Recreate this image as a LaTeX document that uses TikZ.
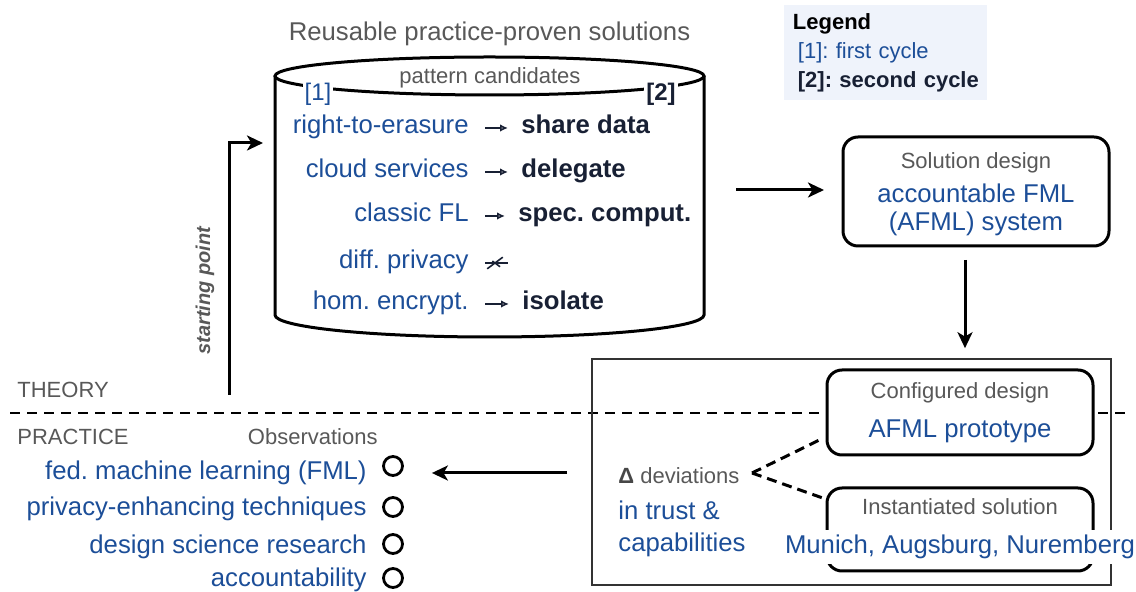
\documentclass[tikz,border=0pt]{standalone}
\usepackage{fontspec}
\setmainfont{Liberation Sans}
\usetikzlibrary{arrows.meta, shapes.misc}

\definecolor{kbblue}{RGB}{28,78,152}
\definecolor{kbnavy}{RGB}{24,32,52}
\definecolor{kbgray}{RGB}{88,88,88}
\definecolor{kbpanel}{RGB}{239,243,251}

\newcommand{\bigtext}{\fontsize{12.85}{14}\selectfont}
\newcommand{\smalltext}{\fontsize{11}{14.5}\selectfont}

\begin{document}
\frenchspacing
\begin{tikzpicture}[x=0.5pt, y=-0.5pt, font=\bigtext,
		every node/.style={inner sep=0pt},
		hint/.style={text=kbgray, font=\smalltext, yshift=-0.75pt},
		topic/.style={text=kbblue, yshift=-1.5pt},
		pick/.style={text=kbnavy, font=\bigtext\bfseries, yshift=-1.5pt},
		block/.style={draw, line width=1.5pt, rounded corners=7.5pt, fill=white, minimum width=133pt, align=center},
		flow/.style={-{Stealth[length=8pt, width=7.5pt, inset=2.2pt]}, line width=1.5pt},
		link/.style={-{Latex[open, length=4pt, width=3.8pt]}, draw=kbnavy, line width=0.9pt, shorten <=8pt, shorten >=6.5pt},
		devlink/.style={line width=1.5pt, dash pattern=on 5pt off 3pt, shorten >=2pt},
		obs/.style={circle, draw, line width=1.4pt, minimum size=9.5pt}]
	\useasboundingbox (0,0) rectangle (1136,592);

	% store of pattern candidates
	\node[hint, font=\bigtext] (title) at (489.5,32.5) {Reusable practice-proven solutions};
	\draw[line width=1.5pt] (489.5,76) ellipse [x radius=214.5, y radius=19];
	\draw[line width=1.5pt] (275,76) -- (275,315) arc [start angle=180, end angle=0, x radius=214.5, y radius=22] -- (704,76);
	\node[hint, anchor=mid] (cands) at (490,77) {pattern candidates};
	\node[topic, fill=white, inner sep=1pt, font=\fontsize{12}{14}\selectfont] (cyc1) at (318,91) {[1]};
	\node[pick, fill=white, inner sep=1pt, font=\fontsize{12}{14}\selectfont\bfseries] (cyc2) at (661,91) {[2]};

	\node[topic, anchor=mid east] (pa1) at (469,125) {right-to-erasure};
	\node[pick, anchor=mid west] (pb1) at (521,125) {share data};
	\draw[link] (pa1.mid east) -- (pb1.mid west);

	\node[topic, anchor=mid east] (pa2) at (469,169) {cloud services};
	\node[pick, anchor=mid west] (pb2) at (521,169) {delegate};
	\draw[link] (pa2.mid east) -- (pb2.mid west);

	\node[topic, anchor=mid east] (pa3) at (469,213) {classic FL};
	\node[pick, anchor=mid west] (pb3) at (518,213) {spec. comput.};
	\draw[link] (pa3.mid east) -- (pb3.mid west);

	\node[topic, anchor=mid east] (pa4) at (469,260) {diff. privacy};
	\coordinate (pb4) at (521,263);
	\draw[link, -] (pa4.mid east) -- node[cross out, draw=kbnavy, line width=0.8pt, minimum width=7pt, minimum height=5pt] (nox) {} (pb4);

	\node[topic, anchor=mid east] (pa5) at (469,301) {hom. encrypt.};
	\node[pick, anchor=mid west] (pb5) at (522,301) {isolate};
	\draw[link] (pa5.mid east) -- (pb5.mid west);

	% legend
	\node[fill=kbpanel, anchor=north west, text width=93pt, inner xsep=4.25pt, inner ysep=4pt, align=left, font=\smalltext] (legend) at (784,5)
		{\textbf{Legend}\\ \mbox{\hspace*{2.5pt}\color{kbblue}[1]: first cycle}\\ \mbox{\hspace*{2.5pt}\color{kbnavy}\bfseries [2]: second cycle}};

	% theory / practice split
	\draw[line width=1pt, dash pattern=on 5pt off 3.5pt] (10,413) -- (1130,413);
	\node[hint, anchor=mid west] (theory) at (17,391) {THEORY};
	\node[hint, anchor=mid west] (practice) at (17,438) {PRACTICE};

	\node[draw=black!80, line width=0.8pt, minimum width=259.5pt, minimum height=113pt] (field) at (851.5,472) {};

	\node[block, minimum height=54.5pt] (design) at (976,191.5)
		{{\smalltext\color{kbgray}\rule{0pt}{10.5pt}Solution design}\\[3pt]{\color{kbblue}accountable FML}\\{\color{kbblue}(AFML) system}};
	\node[block, minimum height=42.5pt] (conf) at (960,412.5)
		{{\smalltext\color{kbgray}Configured design}\\[5.5pt]{\color{kbblue}AFML prototype}};
	\node[block, minimum height=41.5pt] (inst) at (960,529.5) {};
	\node[hint, anchor=mid] (instlbl) at (960,508) {Instantiated solution};
	\node[topic, fill=white, inner sep=2.5pt, anchor=mid] (cities) at (960,545) {Munich, Augsburg, Nuremberg};

	\node[anchor=north west, align=left] (dev) at (618,467)
		{{\smalltext\textcolor{black!72}{\textbf{Δ}} \color{kbgray}deviations}\\[4.2pt]{\color{kbblue}in trust \&}\\[2pt]{\color{kbblue}capabilities}};
	\coordinate (devtip) at (752,473);
	\draw[devlink] (devtip) -- ([yshift=-12.25pt]conf.west);
	\draw[devlink] (devtip) -- ([yshift=15.25pt]inst.west);

	% observations
	\node[hint, anchor=mid east] (obshead) at (378,438) {Observations};
	\node[topic, anchor=mid east] (fml) at (367,471) {fed. machine learning (FML)};
	\node[topic, anchor=mid east] (pet) at (367,507) {privacy-enhancing techniques};
	\node[topic, anchor=mid east] (dsr) at (367,545) {design science research};
	\node[topic, anchor=mid east] (acc) at (367,578) {accountability};
	\node[obs] (o1) at (393,466) {};
	\node[obs] (o2) at (393,507) {};
	\node[obs] (o3) at (393,544) {};
	\node[obs] (o4) at (393,578) {};

	% cycle arrows
	\coordinate (start) at (229,395);
	\coordinate (storein) at (263,143);
	\draw[flow] (start) |- (storein);
	\node[hint, font=\fontsize{10}{12}\selectfont\bfseries\itshape, rotate=90] (startlbl) at (205,289) {starting point};

	\coordinate (storeout) at (736,190);
	\draw[flow, shorten >=8.75pt] (storeout) -- (storeout -| design.west);
	\draw[flow, shorten <=6.25pt, shorten >=5pt] ([xshift=-5.5pt]design.south) -- ([xshift=-5.5pt]design.south |- field.north);

	\coordinate (fieldout) at (567,473);
	\draw[flow, shorten >=14pt] (fieldout) -- (fieldout -| o1.east);
\end{tikzpicture}
\end{document}
